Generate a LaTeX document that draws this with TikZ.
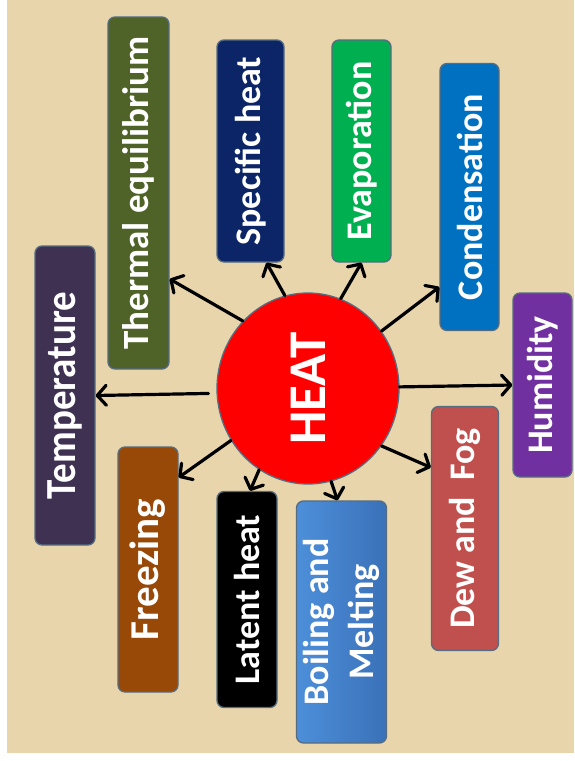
\documentclass[tikz,border=0pt]{standalone}
\usepackage{fontspec}
\setmainfont{Carlito}
\usepackage{graphicx}
\usetikzlibrary{arrows.meta,shapes.geometric}

\definecolor{paper}{HTML}{E8D5AC}
\definecolor{edge}{HTML}{566C80}
\definecolor{cTemp}{HTML}{3F3151}
\definecolor{cTherm}{HTML}{4F6228}
\definecolor{cSpec}{HTML}{0B2566}
\definecolor{cEvap}{HTML}{00B050}
\definecolor{cCond}{HTML}{0070C0}
\definecolor{cHum}{HTML}{7030A0}
\definecolor{cDew}{HTML}{C0504D}
\definecolor{cBoilA}{HTML}{4D8FDA}
\definecolor{cBoilB}{HTML}{3A71B8}
\definecolor{cLat}{HTML}{000000}
\definecolor{cFrz}{HTML}{984807}
\definecolor{cHeat}{HTML}{FF0000}

\tikzset{
  topic/.style={rectangle, rounded corners=7pt, draw=edge, line width=1.3pt,
    text=white, inner sep=0pt,
    font=\bfseries\fontsize{36pt}{45pt}\selectfont},
  size/.style 2 args={minimum width=#1pt, minimum height=#2pt},
  hub/.style={ellipse, fill=cHeat, draw=edge, line width=1.3pt, text=white,
    inner sep=0pt, minimum width=182pt, minimum height=191pt,
    font=\bfseries\fontsize{53pt}{60pt}\selectfont},
  link/.style={line width=3.2pt, draw=black, line cap=round,
    -{Straight Barb[length=9pt,width=20pt,round]}}
}

\begin{document}
\begin{tikzpicture}[x=1pt,y=-1pt]
  % page and parchment background
  \fill[white] (0,0) rectangle (574,761);
  \fill[paper] (7,0) rectangle (574,753);
  \useasboundingbox (0,0) rectangle (574,761);

  % central idea
  \node[hub] (heat) at (308,388.5) {\rotatebox{90}{HEAT}};

  % surrounding topics
  \node[topic, size={60}{299}, fill=cTemp, font=\bfseries\fontsize{39pt}{45pt}\selectfont]
    (temp) at (65,395.5) {\rotatebox{90}{\scalebox{1}[1.1]{Temperature}}};
  \node[topic, size={61}{352}, fill=cTherm, font=\bfseries\fontsize{37pt}{45pt}\selectfont]
    (therm) at (138.5,193) {\rotatebox{90}{Thermal equilibrium}};
  \node[topic, size={67}{222}, fill=cSpec] (spec) at (250.5,151)
    {\rotatebox{90}{Specific heat}};
  \node[topic, size={59}{222}, fill=cEvap] (evap) at (361.5,151)
    {\rotatebox{90}{Evaporation}};
  \node[topic, size={59}{267}, fill=cCond] (cond) at (469.5,197)
    {\rotatebox{90}{Condensation}};
  \node[topic, size={59}{184}, fill=cHum] (hum) at (542.5,385)
    {\rotatebox{90}{Humidity}};
  \node[topic, size={67}{244}, fill=cDew] (dew) at (465,528.5)
    {\rotatebox{90}{Dew and~~Fog}};
  \node[topic, size={81}{242}, left color=cBoilA, right color=cBoilB] (boil) at (341.5,622)
    {\rotatebox{90}{\begin{tabular}{@{}c@{}}Boiling and\\Melting\end{tabular}}};
  \node[topic, size={60}{216}, fill=cLat] (lat) at (247,599.5)
    {\rotatebox{90}{Latent heat}};
  \node[topic, size={60}{245}, fill=cFrz, font=\bfseries\fontsize{41pt}{45pt}\selectfont]
    (frz) at (148,569.5) {\rotatebox{90}{Freezing}};

  % connectors from the hub
  \draw[link, shorten <=8pt] (heat.183) -- (temp.east);
  \draw[link] (heat.134) -- ([yshift=-86pt]therm.east);
  \draw[link] (heat.104) -- ([xshift=16pt]spec.south);
  \draw[link] (heat.70) -- (evap.south);
  \draw[link] (heat.38) -- ([yshift=-90pt]cond.west);
  \draw[link] (heat.1) -- (hum.west);
  \draw[link] (heat.-38) -- ([yshift=61pt]dew.west);
  \draw[link] (heat.-76) -- ([xshift=-4pt]boil.north);
  \draw[link] (heat.-121) -- ([xshift=3pt]lat.north);
  \draw[link] (heat.-146) -- ([yshift=92pt]frz.east);
\end{tikzpicture}
\end{document}
